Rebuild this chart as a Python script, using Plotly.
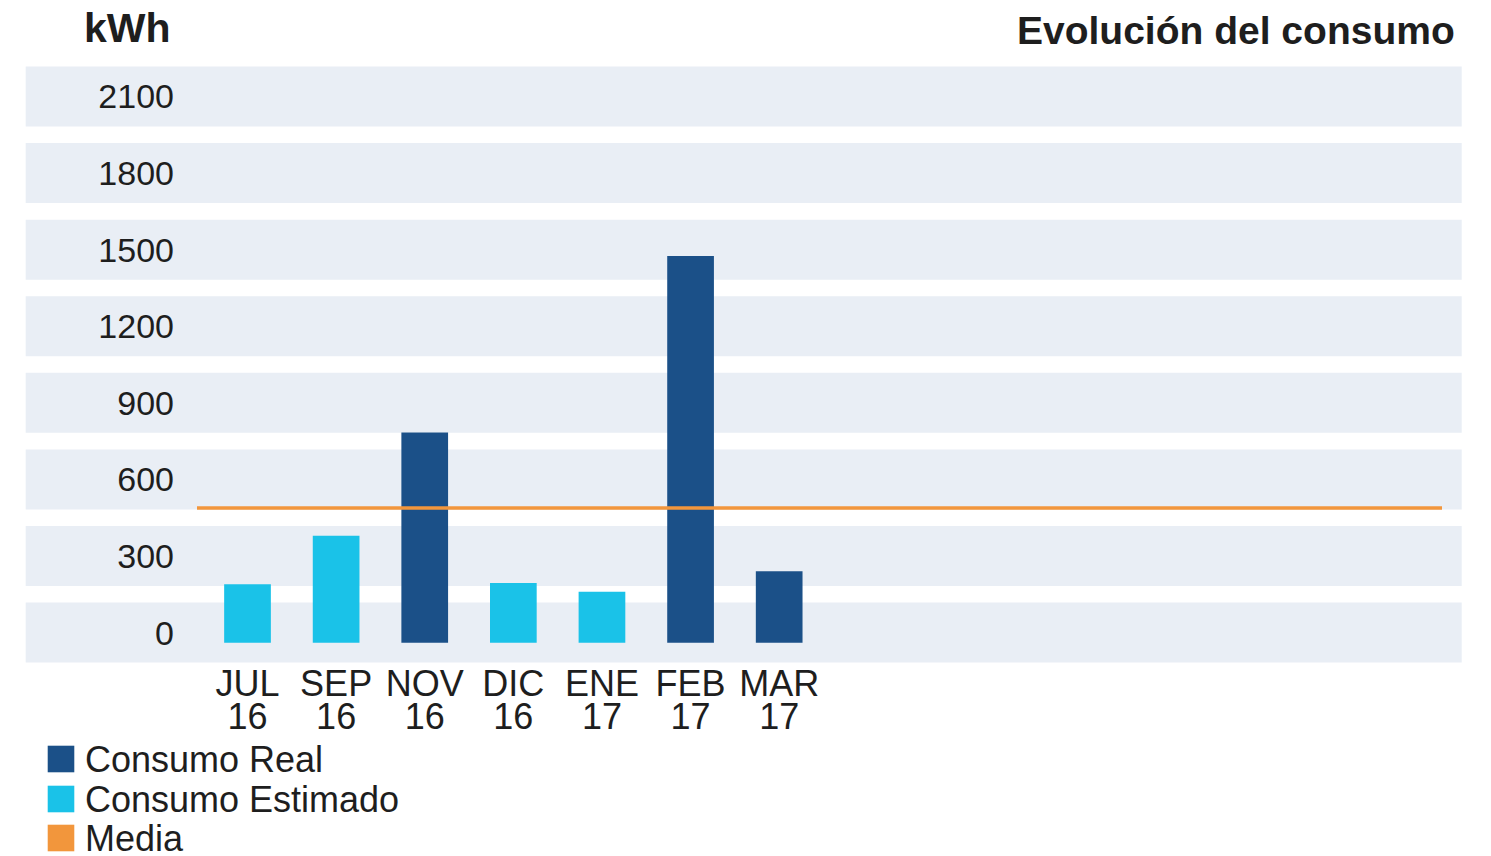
import plotly.graph_objects as go

# ---- data ----
months = ["JUL", "SEP", "NOV", "DIC", "ENE", "FEB", "MAR"]
years = ["16", "16", "16", "16", "17", "17", "17"]
consumo_real = [None, None, 823, None, None, 1515, 280]
consumo_estimado = [229, 419, None, 234, 200, None, None]
media = 528
y_ticks = [0, 300, 600, 900, 1200, 1500, 1800, 2100]
series_names = ["Consumo Real", "Consumo Estimado", "Media"]
title_text = "Evolución del consumo"
unit_text = "kWh"

# ---- style ----
DARK = "#1b5088"
CYAN = "#1ac2e8"
ORANGE = "#f2963c"
BAND = "#e9eef5"
TEXT = "#1e1e1e"
FONT = "Liberation Sans"

W, H = 1491, 856
L, R, T, B = 197, 1442, 60, 664


def px_x(px):
    return (px - L) / (R - L)


def px_y(py):
    return (B - py) / (B - T)


x_idx = list(range(len(months)))

fig = go.Figure()
fig.add_trace(go.Bar(x=x_idx, y=consumo_real, name=series_names[0],
                     marker=dict(color=DARK, line=dict(width=0)), showlegend=False))
fig.add_trace(go.Bar(x=x_idx, y=consumo_estimado, name=series_names[1],
                     marker=dict(color=CYAN, line=dict(width=0)), showlegend=False))
# helper trace so the second (year) axis is drawn
fig.add_trace(go.Scatter(x=x_idx, y=[None] * len(x_idx), xaxis="x2", mode="markers",
                         showlegend=False, hoverinfo="skip"))

shapes = []
for v in y_ticks:
    shapes.append(dict(type="rect", xref="paper", yref="y",
                       x0=px_x(25.7), x1=px_x(1461.7), y0=v - 78, y1=v + 157,
                       fillcolor=BAND, line=dict(width=0), layer="below"))
shapes.append(dict(type="line", xref="paper", yref="y", x0=0, x1=1, y0=media, y1=media,
                   line=dict(color=ORANGE, width=3.5), layer="above"))

# legend (drawn manually to match the large square swatches)
leg_colors = [DARK, CYAN, ORANGE]
leg_rows = [759, 799, 838]
annotations = []
for name, col, cy in zip(series_names, leg_colors, leg_rows):
    shapes.append(dict(type="rect", xref="paper", yref="paper",
                       xsizemode="pixel", ysizemode="pixel",
                       xanchor=px_x(47.7), yanchor=px_y(cy),
                       x0=0, x1=26.6, y0=-13.3, y1=13.3,
                       fillcolor=col, line=dict(width=0)))
    annotations.append(dict(text=name, xref="paper", yref="paper",
                            x=px_x(83), y=px_y(cy), xanchor="left", yanchor="middle",
                            showarrow=False, font=dict(size=36, color=TEXT, family=FONT)))

annotations.append(dict(text="<b>%s</b>" % unit_text, xref="paper", yref="paper",
                        x=px_x(173), y=px_y(28), xanchor="right", yanchor="middle",
                        showarrow=False, font=dict(size=41, color=TEXT, family=FONT)))
annotations.append(dict(text="<b>%s</b>" % title_text, xref="paper", yref="paper",
                        x=px_x(1457), y=px_y(30), xanchor="right", yanchor="middle",
                        showarrow=False, font=dict(size=39, color=TEXT, family=FONT)))

x_range = [-0.57, 13.48]
fig.update_layout(
    width=W, height=H, autosize=False,
    margin=dict(l=L, r=W - R, t=T, b=H - B, pad=0),
    paper_bgcolor="white", plot_bgcolor="white",
    font=dict(family=FONT, color=TEXT, size=34),
    barmode="overlay", bargap=0.473,
    showlegend=False,
    shapes=shapes, annotations=annotations,
    xaxis=dict(range=x_range, tickvals=x_idx, ticktext=months, showgrid=False,
               zeroline=False, showline=False, ticks="", automargin=False,
               tickfont=dict(size=36, color=TEXT), ticklabelstandoff=-5),
    xaxis2=dict(range=x_range, tickvals=x_idx, ticktext=years, overlaying="x",
                anchor="y", side="bottom", showgrid=False, zeroline=False,
                showline=False, ticks="", automargin=False,
                tickfont=dict(size=36, color=TEXT), ticklabelstandoff=28),
    yaxis=dict(range=[-83.4, 2282.4], tickvals=y_ticks, ticktext=[str(v) for v in y_ticks],
               showgrid=False, zeroline=False, showline=False, ticks="", automargin=False,
               tickfont=dict(size=34, color=TEXT), ticklabelshift=-10,
               ticklabelstandoff=22),
)

fig.write_html("out.html", config={"displayModeBar": False},
               post_script="document.body.style.margin='0px';")
